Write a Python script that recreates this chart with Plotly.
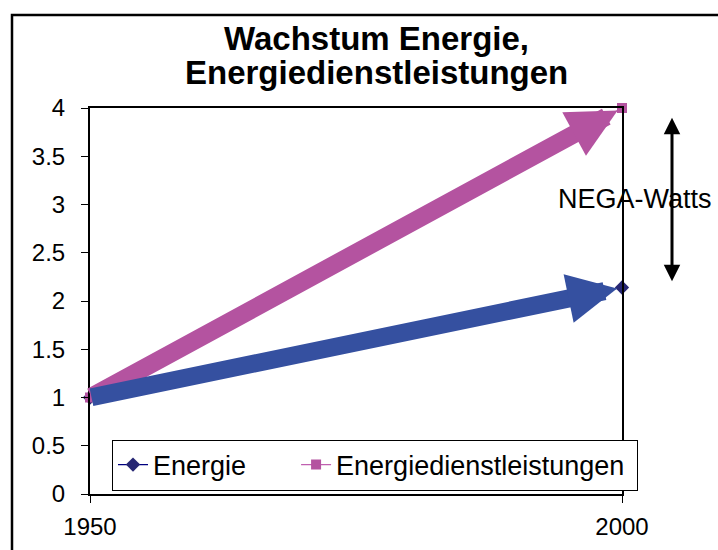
import plotly.graph_objects as go

years = [1950, 2000]
energie = [1, 2.14]
dienstleistungen = [1, 4]
series_names = ["Energie", "Energiedienstleistungen"]
title_lines = ["Wachstum Energie,", "Energiedienstleistungen"]
nega_label = "NEGA-Watts"
nega_range = [2.19, 3.9]

FONT = "Liberation Sans, Arial, sans-serif"
BLUE_ARROW = "#3550A0"
PINK_ARROW = "#B453A0"
NB = "\u00a0"

L, R, T, B = 90, 622, 108, 494
PW, PH = R - L, B - T

def px_x(p):
    return (p - L) / PW

def px_y(p):
    return (B - p) / PH

fig = go.Figure()
fig.add_trace(go.Scatter(
    x=years, y=energie, name=series_names[0] + NB * 6, mode="lines+markers",
    line=dict(color="#000080", width=1.2),
    marker=dict(symbol="diamond", size=11, color="#262673"),
    cliponaxis=False))
fig.add_trace(go.Scatter(
    x=years, y=dienstleistungen, name=series_names[1] + NB, mode="lines+markers",
    line=dict(color="#C060B0", width=1.2),
    marker=dict(symbol="square", size=10, color="#B453A0"),
    cliponaxis=False))

# thick arrows along each series
for ys, col in [(dienstleistungen, PINK_ARROW), (energie, BLUE_ARROW)]:
    fig.add_annotation(x=years[-1], y=ys[-1], ax=years[0], ay=ys[0],
                       xref="x", yref="y", axref="x", ayref="y",
                       text="", showarrow=True, arrowhead=2, arrowsize=0.55,
                       arrowwidth=18, arrowcolor=col, standoff=5)

# NEGA-Watts double arrow and label
fig.add_annotation(x=px_x(672), y=nega_range[1], xref="paper", yref="y",
                   ax=0, ay=165, axref="pixel", ayref="pixel", text="",
                   showarrow=True, arrowhead=2, arrowsize=1.1, arrowwidth=3,
                   startarrowhead=2, startarrowsize=1.1, arrowside="end+start",
                   arrowcolor="black")
fig.add_annotation(x=px_x(634.5), y=px_y(199), xref="paper", yref="paper",
                   xanchor="center", yanchor="middle", text=nega_label,
                   showarrow=False, font=dict(family=FONT, size=27, color="black"))

# title (two lines)
for i, t in enumerate(title_lines):
    fig.add_annotation(x=px_x(376), y=px_y(38 + 35 * i),
                       xref="paper", yref="paper", text="<b>%s</b>" % t,
                       xanchor="center", yanchor="middle", showarrow=False,
                       font=dict(family=FONT, size=33, color="black"))

# outer chart border
fig.add_shape(type="rect", xref="paper", yref="paper",
              x0=px_x(12), x1=px_x(730), y0=px_y(560), y1=px_y(15),
              line=dict(color="black", width=2.5), fillcolor="rgba(0,0,0,0)",
              layer="below")

fig.update_layout(
    width=718, height=550,
    margin=dict(l=L, r=718 - R, t=T, b=550 - B, autoexpand=False),
    paper_bgcolor="white", plot_bgcolor="white",
    font=dict(family=FONT, size=24, color="black"),
    showlegend=True,
    legend=dict(orientation="h", x=px_x(112), y=px_y(465),
                xanchor="left", yanchor="middle",
                bgcolor="white", bordercolor="black", borderwidth=1,
                font=dict(family=FONT, size=27)),
)
fig.update_xaxes(range=[years[0], years[-1]], tickvals=years, automargin=False,
                 showgrid=False, zeroline=False, showline=True, mirror=True,
                 linecolor="black", linewidth=2, ticks="outside", ticklen=7,
                 tickcolor="black", ticklabelstandoff=3,
                 tickfont=dict(family=FONT, size=24))
fig.update_yaxes(range=[0, 4], dtick=0.5, tick0=0, automargin=False,
                 showgrid=False, zeroline=False, showline=True, mirror=True,
                 linecolor="black", linewidth=2, ticks="outside", ticklen=7,
                 tickcolor="black", ticklabelstandoff=11,
                 tickfont=dict(family=FONT, size=24))

fig.write_html("out.html", config={"displayModeBar": False},
               post_script="document.body.style.margin='0';"
                           "document.body.style.overflow='hidden';")
